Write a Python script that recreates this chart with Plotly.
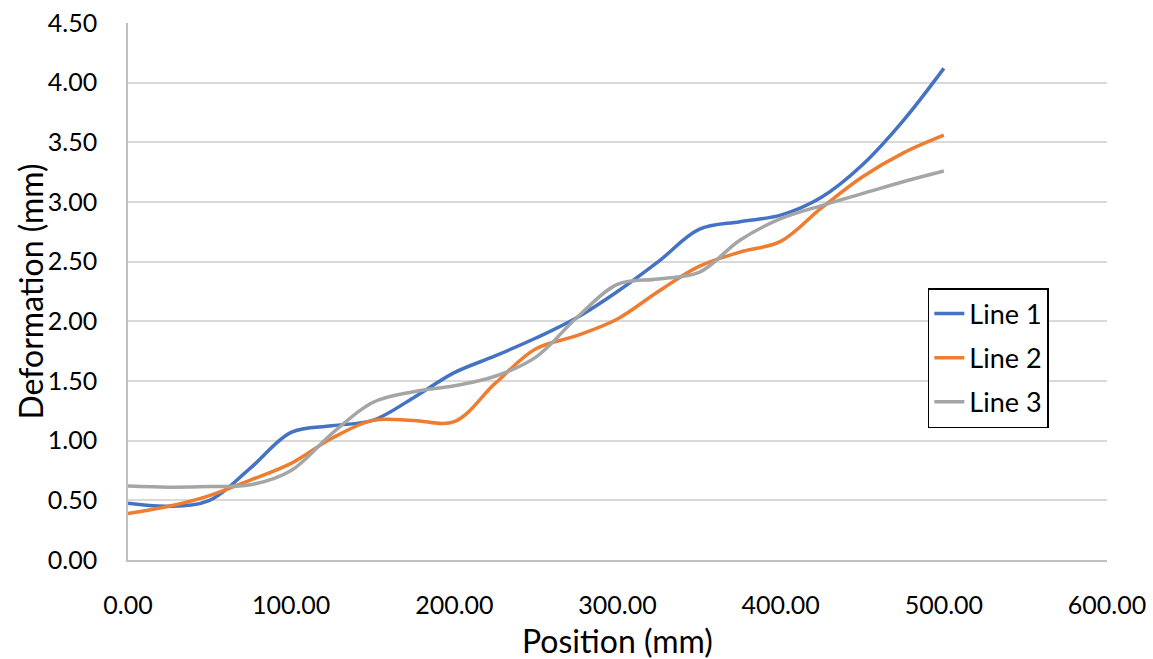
import plotly.graph_objects as go

x_pos = [0, 25, 50, 75, 100, 125, 150, 175, 200, 225, 250, 275, 300, 325, 350, 375, 400, 425, 450, 475, 500]
line1 = [0.475, 0.45, 0.50, 0.77, 1.07, 1.125, 1.17, 1.36, 1.57, 1.71, 1.86, 2.03, 2.25, 2.50, 2.77, 2.835, 2.89, 3.04, 3.31, 3.68, 4.12]
line2 = [0.39, 0.45, 0.54, 0.67, 0.81, 1.02, 1.17, 1.17, 1.16, 1.48, 1.77, 1.88, 2.02, 2.25, 2.46, 2.58, 2.67, 2.95, 3.21, 3.41, 3.56]
line3 = [0.62, 0.61, 0.615, 0.63, 0.75, 1.06, 1.32, 1.41, 1.46, 1.54, 1.70, 2.03, 2.31, 2.355, 2.41, 2.68, 2.86, 2.97, 3.07, 3.17, 3.26]
names = ["Line 1", "Line 2", "Line 3"]
colors = ["#4472C4", "#ED7D31", "#A5A5A5"]
x_title = "Position (mm)"
y_title = "Deformation (mm)"

FONT = "Lato, 'Liberation Sans', sans-serif"

fig = go.Figure()
for name, ys, c in zip(names, [line1, line2, line3], colors):
    fig.add_trace(go.Scatter(
        x=x_pos, y=ys, name=name, mode="lines", legendgroup=name,
        line=dict(color=c, width=3.5, shape="spline", smoothing=1.0),
    ))

fig.update_layout(
    width=1153, height=659,
    margin=dict(l=128, r=46, t=23, b=99, autoexpand=False),
    paper_bgcolor="white", plot_bgcolor="white",
    font=dict(family=FONT, size=25, color="#000000"),
    showlegend=True,
    legend=dict(
        x=0.817, y=0.5065, xanchor="left", yanchor="top",
        bordercolor="#000000", borderwidth=1.5, bgcolor="white",
        font=dict(family=FONT, size=27, color="#000000"),
        tracegroupgap=6, traceorder="grouped",
    ),
    xaxis=dict(
        range=[0, 600], dtick=100, tick0=0, tickformat=".2f",
        showgrid=False, zeroline=False, automargin=False,
        showline=True, linecolor="#BFBFBF", linewidth=1.5,
        ticks="outside", ticklen=22, tickcolor="rgba(0,0,0,0)",
        tickfont=dict(size=25),
    ),
    yaxis=dict(
        range=[0, 4.5], dtick=0.5, tick0=0, tickformat=".2f",
        showgrid=True, gridcolor="#D9D9D9", gridwidth=1.5,
        zeroline=False, automargin=False,
        showline=True, linecolor="#BFBFBF", linewidth=1.5,
        ticks="outside", ticklen=24, tickcolor="rgba(0,0,0,0)",
        tickfont=dict(size=25),
    ),
    annotations=[
        dict(text=x_title, xref="paper", yref="paper", x=0.5, y=-0.149,
             xanchor="center", yanchor="middle", showarrow=False,
             font=dict(size=32, family=FONT)),
        dict(text=y_title, xref="paper", yref="paper", x=-0.1001, y=0.5,
             xanchor="center", yanchor="middle", showarrow=False, textangle=-90,
             font=dict(size=32, family=FONT)),
    ],
)

fig.write_html("out.html")
